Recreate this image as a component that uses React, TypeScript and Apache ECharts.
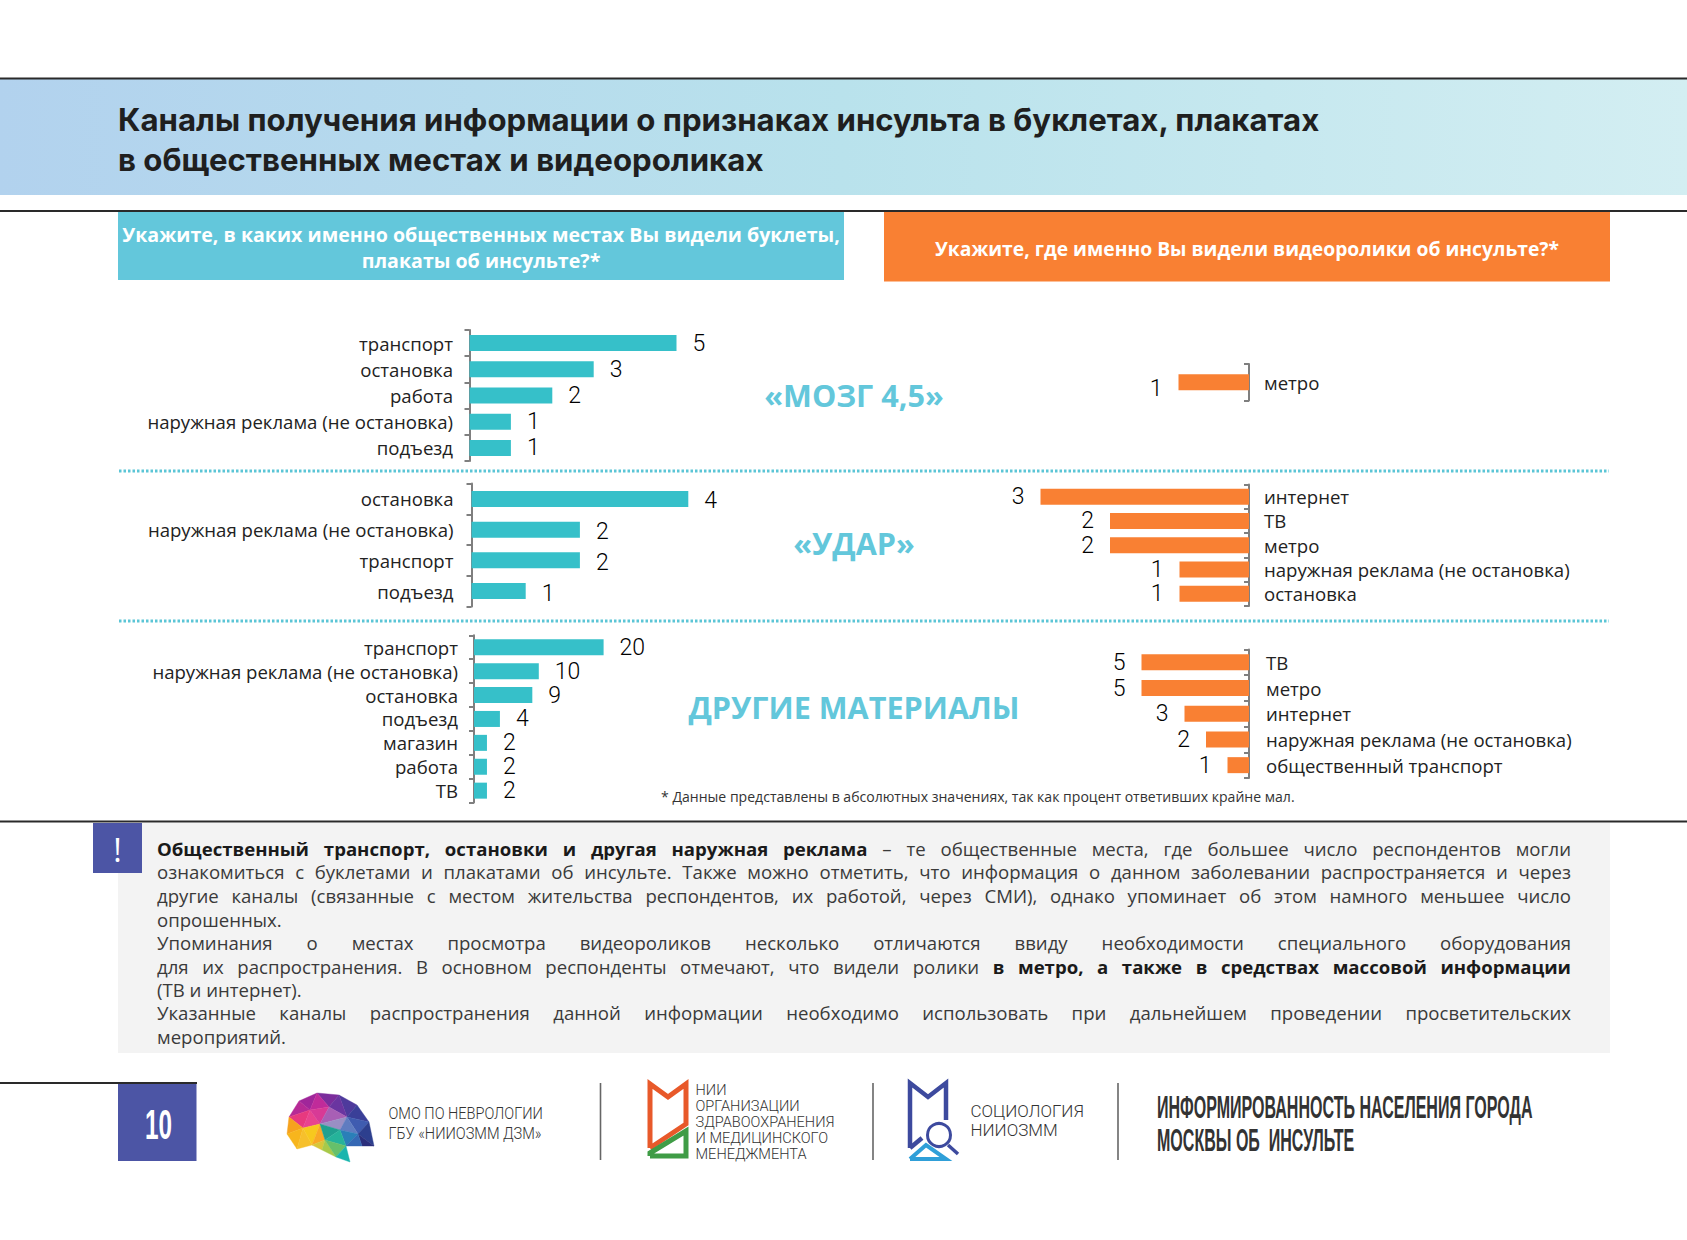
import React, { useEffect, useRef } from "react";
import * as echarts from "echarts";

const brainCats = ["транспорт", "остановка", "работа", "наружная реклама (не остановка)", "подъезд"];
const brainVals = [5, 3, 2, 1, 1];
const strokeCats = ["остановка", "наружная реклама (не остановка)", "транспорт", "подъезд"];
const strokeVals = [4, 2, 2, 1];
const otherCats = ["транспорт", "наружная реклама (не остановка)", "остановка", "подъезд", "магазин", "работа", "ТВ"];
const otherVals = [20, 10, 9, 4, 2, 2, 2];
const videoBrainCats = ["метро"];
const videoBrainVals = [1];
const videoStrokeCats = ["интернет", "ТВ", "метро", "наружная реклама (не остановка)", "остановка"];
const videoStrokeVals = [3, 2, 2, 1, 1];
const videoOtherCats = ["ТВ", "метро", "интернет", "наружная реклама (не остановка)", "общественный транспорт"];
const videoOtherVals = [5, 5, 3, 2, 1];

const titleLines = [
  "Каналы получения информации о признаках инсульта в буклетах, плакатах",
  "в общественных местах и видеороликах",
];
const bodyLines: { runs: [string, boolean][]; justify: boolean }[] = [
  { runs: [["Общественный транспорт, остановки и другая наружная реклама", true], ["– те общественные места, где большее число респондентов могли", false]], justify: true },
  { runs: [["ознакомиться с буклетами и плакатами об инсульте. Также можно отметить, что информация о данном заболевании распространяется и через", false]], justify: true },
  { runs: [["другие каналы (связанные с местом жительства респондентов, их работой, через СМИ), однако упоминает об этом намного меньшее число", false]], justify: true },
  { runs: [["опрошенных.", false]], justify: false },
  { runs: [["Упоминания о местах просмотра видеороликов несколько отличаются ввиду необходимости специального оборудования", false]], justify: true },
  { runs: [["для их распространения. В основном респонденты отмечают, что видели ролики", false], ["в метро, а также в средствах массовой информации", true]], justify: true },
  { runs: [["(ТВ и интернет).", false]], justify: false },
  { runs: [["Указанные каналы распространения данной информации необходимо использовать при дальнейшем проведении просветительских", false]], justify: true },
  { runs: [["мероприятий.", false]], justify: false },
];

const FONT = "'Open Sans', sans-serif";
const TEAL = "#36c0c9";
const ORANGE = "#f98033";
const HEAD_BLUE = "#63c7db";
const INDIGO = "#4c55a5";

type Panel = { cats: string[]; vals: number[]; side: "left" | "right"; axisX: number; top: number; bottom: number; scale: number; margin: number; dy?: number };
const panels: Panel[] = [
  { cats: brainCats, vals: brainVals, side: "left", axisX: 469.5, top: 330, bottom: 461, scale: 41.4, margin: 16.5 },
  { cats: strokeCats, vals: strokeVals, side: "left", axisX: 471.5, top: 483.6, bottom: 606.4, scale: 54.2, margin: 18, dy: 2 },
  { cats: otherCats, vals: otherVals, side: "left", axisX: 474, top: 635.3, bottom: 802.6, scale: 6.48, margin: 16 },
  { cats: videoBrainCats, vals: videoBrainVals, side: "right", axisX: 1249, top: 364, bottom: 400.5, scale: 70.5, margin: 15, dy: 6 },
  { cats: videoStrokeCats, vals: videoStrokeVals, side: "right", axisX: 1249, top: 484.5, bottom: 606, scale: 69.5, margin: 15 },
  { cats: videoOtherCats, vals: videoOtherVals, side: "right", axisX: 1249, top: 649.5, bottom: 778, scale: 21.5, margin: 17 },
];

function buildPanels() {
  const grid: any[] = [], xAxis: any[] = [], yAxis: any[] = [], series: any[] = [];
  panels.forEach((p, i) => {
    const max = Math.max(...p.vals);
    const width = max * p.scale;
    const left = p.side === "left";
    grid.push({ left: left ? p.axisX : p.axisX - width, top: p.top, width, height: p.bottom - p.top, containLabel: false });
    xAxis.push({ type: "value", gridIndex: i, min: 0, max, show: false, inverse: !left });
    yAxis.push({
      type: "category", gridIndex: i, data: p.cats, inverse: true, position: left ? "left" : "right",
      axisLine: { show: true, lineStyle: { color: "#7f7f7f", width: 2 } },
      axisTick: { show: true, length: 5, inside: !left, interval: 0, lineStyle: { color: "#7f7f7f", width: 2 } },
      axisLabel: { interval: 0, hideOverlap: false, margin: p.margin, fontFamily: FONT, fontSize: 18.6, color: "#222" },
    });
    series.push({
      type: "bar", xAxisIndex: i, yAxisIndex: i, data: p.vals, barWidth: 16,
      itemStyle: { color: left ? TEAL : ORANGE },
      label: { show: true, position: left ? "right" : "left", distance: 16, offset: [0, p.dy ?? 0], fontFamily: "Roboto", fontWeight: 300, fontSize: 23, color: "#000" },
    });
  });
  return { grid, xAxis, yAxis, series };
}

function bodyText(): any[] {
  const ctx = document.createElement("canvas").getContext("2d")!;
  const X0 = 157, X1 = 1571, size = 18.6;
  const ys = [848, 871.7, 895.3, 919, 942.6, 966, 989, 1012.5, 1036];
  const out: any[] = [];
  bodyLines.forEach((line, li) => {
    const words: { t: string; b: boolean; w: number }[] = [];
    line.runs.forEach(([s, b]) => s.split(" ").forEach((t) => {
      ctx.font = `${b ? 700 : 400} ${size}px 'Open Sans'`;
      words.push({ t, b, w: ctx.measureText(t).width });
    }));
    const sum = words.reduce((a, w) => a + w.w, 0);
    ctx.font = `400 ${size}px 'Open Sans'`;
    const gap = line.justify ? (X1 - X0 - sum) / (words.length - 1) : ctx.measureText(" ").width;
    let x = X0;
    words.forEach((w) => {
      out.push({ type: "text", x, y: ys[li], style: { text: w.t, fontFamily: FONT, fontSize: size, fontWeight: w.b ? 700 : 400, fill: w.b ? "#1a1a1a" : "#3a3a3a", verticalAlign: "middle" } });
      x += w.w + gap;
    });
  });
  return out;
}

function fitX(text: string, font: string, width: number) {
  const ctx = document.createElement("canvas").getContext("2d")!;
  ctx.font = font;
  return width / ctx.measureText(text).width;
}

const T = (text: string, x: number, y: number, style: any, extra: any = {}) => ({
  type: "text", x, y, ...extra, style: { text, fontFamily: FONT, verticalAlign: "middle", ...style },
});
const R = (x: number, y: number, width: number, height: number, fill: any) => ({ type: "rect", shape: { x, y, width, height }, style: { fill } });
const L = (x1: number, y1: number, x2: number, y2: number, stroke: string, lineWidth: number, lineDash?: number[]) => ({
  type: "line", shape: { x1, y1, x2, y2 }, style: { stroke, lineWidth, lineDash },
});
const PL = (points: number[][], stroke: string, lineWidth: number) => ({ type: "polyline", shape: { points }, style: { stroke, lineWidth, fill: "none", lineJoin: "miter" } });
const PG = (points: number[][], fill: string) => ({ type: "polygon", shape: { points }, style: { fill, stroke: fill, lineWidth: 0.4 } });

const bp: Record<string, number[]> = {
  A: [299, 1101], B: [317, 1093], C: [339, 1095], D: [357, 1105], E: [369, 1122], F: [374, 1146],
  G: [289, 1117], H: [287, 1134], I: [297, 1149], J: [312, 1145], K: [322, 1150], L: [336, 1157],
  M: [346, 1146], T: [350, 1162], N: [362, 1146],
  a: [310, 1110], b: [329, 1107], c: [347, 1117], d: [320, 1124], e: [340, 1130], f: [358, 1134], g: [303, 1128], h: [325, 1140],
};
const brainTris: [string, string][] = [
  ["ABa", "#a0269a"], ["BCb", "#7b2d9c"], ["Bab", "#c02b9a"], ["CDc", "#4e3a9c"], ["Cbc", "#6a35a0"], ["DEc", "#3a3f98"],
  ["AGa", "#b62a96"], ["Gga", "#e7397f"], ["adg", "#e8438f"], ["abd", "#d83a96"], ["bcd", "#a85fb5"], ["cde", "#9a8fc4"],
  ["Ecf", "#3f5cb0"], ["cef", "#5f7cc0"], ["EFf", "#2d3f8e"], ["FNf", "#2b2f7c"],
  ["GHg", "#f6a21e"], ["HIg", "#f7b51d"], ["IJg", "#f6c02c"], ["gdJ", "#f7c81e"], ["dhJ", "#f9a825"],
  ["deh", "#1fa08f"], ["efM", "#2a7fb8"], ["ehM", "#25b39a"], ["fNM", "#3568b4"], ["JKh", "#d8c63a"], ["KLh", "#a8c94a"],
  ["LMh", "#66c06a"], ["LMT", "#19b5ad"],
];

function decor(): any[] {
  const g: any[] = [];
  g.push(R(0, 79, 1687, 116, new echarts.graphic.LinearGradient(0, 0, 1, 0, [
    { offset: 0, color: "#b2d2ee" }, { offset: 0.5, color: "#b9e2ec" }, { offset: 1, color: "#d3eef2" },
  ])));
  g.push(L(0, 78.5, 1687, 78.5, "#2a2a2a", 2), L(0, 211, 1687, 211, "#2a2a2a", 2), L(0, 821.5, 1687, 821.5, "#2a2a2a", 2));
  titleLines.forEach((t, i) => g.push(T(t, 118, 119.5 + i * 40, { fontFamily: "Inter", fontWeight: 700, fontSize: 31.2, fill: "#1f1f1f" })));
  g.push(R(118, 212, 726, 68, HEAD_BLUE), R(884, 212, 726, 69.5, ORANGE));
  const hs = { fill: "#fff", fontWeight: 700, fontSize: 19.6, align: "center" };
  g.push(T("Укажите, в каких именно общественных местах Вы видели буклеты,", 481, 234.5, hs));
  g.push(T("плакаты об инсульте?*", 481, 260, hs));
  g.push(T("Укажите, где именно Вы видели видеоролики об инсульте?*", 1247, 248.5, { ...hs, fontSize: 19.3 }));
  [471, 621].forEach((y) => g.push(L(119, y, 1609, y, "#5bc5d6", 3, [2.5, 2])));
  const ts = { fill: HEAD_BLUE, fontWeight: 700, fontSize: 30.6, align: "center" };
  g.push(T("«МОЗГ 4,5»", 854, 395, ts), T("«УДАР»", 854, 543, ts), T("ДРУГИЕ МАТЕРИАЛЫ", 854, 707, ts));
  g.push(T("* Данные представлены в абсолютных значениях, так как процент ответивших крайне мал.", 661, 796.5, { fontSize: 14.05, fill: "#333" }));
  g.push(R(118, 823, 1492, 230, "#f3f3f3"), R(93, 823, 49, 50, INDIGO));
  g.push(T("!", 117.5, 849, { fill: "#fff", fontSize: 32, fontWeight: 400, align: "center" }));
  g.push(...bodyText());
  g.push(L(0, 1083, 197, 1083, "#2a2a2a", 2), R(118, 1084, 78.5, 77, INDIGO));
  const num = "700 42px 'Liberation Sans'";
  g.push(T("10", 158.5, 1124, { fontFamily: "'Liberation Sans'", fontWeight: 700, fontSize: 42, fill: "#fff", align: "center" }, { scaleX: fitX("10", num, 27) }));
  brainTris.forEach(([k, c]) => g.push(PG(k.split("").map((n) => bp[n]), c)));
  const ls = { fontFamily: "Roboto", fontWeight: 300, fontSize: 16, fill: "#333" };
  g.push(T("ОМО ПО НЕВРОЛОГИИ", 388.5, 1114, ls, { scaleX: 0.91 }), T("ГБУ «НИИОЗММ ДЗМ»", 388.5, 1134, ls, { scaleX: 0.91 }));
  [600.5, 873, 1118].forEach((x) => g.push(L(x, 1083, x, 1160, "#666", 1.6)));
  g.push(PL([[650, 1148], [650, 1084], [668, 1097], [686, 1084], [686, 1124], [650, 1148]], "#e8592a", 5));
  g.push(PL([[650, 1156], [650, 1153], [686, 1131], [686, 1156], [650, 1156]], "#3f9c46", 5));
  ["НИИ", "ОРГАНИЗАЦИИ", "ЗДРАВООХРАНЕНИЯ", "И МЕДИЦИНСКОГО", "МЕНЕДЖМЕНТА"].forEach((t, i) =>
    g.push(T(t, 695.5, 1090 + i * 16, { ...ls, fontSize: 15.5 }, { scaleX: 0.94 })));
  g.push(PL([[910, 1148], [910, 1083], [928, 1097], [946, 1083], [946, 1120]], "#3d4a9e", 4.5));
  g.push(PL([[910, 1148], [922, 1138]], "#3d4a9e", 4.5));
  g.push(PL([[910, 1159], [926, 1145], [946, 1159], [910, 1159]], "#2f9fd8", 4));
  g.push({ type: "circle", shape: { cx: 939, cy: 1135, r: 11.5 }, style: { fill: "#fff", stroke: "#3d4a9e", lineWidth: 3 } });
  g.push(L(948, 1145, 958, 1154, "#3d4a9e", 3.5));
  g.push(T("СОЦИОЛОГИЯ", 970.5, 1111, { ...ls, fontSize: 17 }), T("НИИОЗММ", 970.5, 1130, { ...ls, fontSize: 17 }));
  const fs = { fontFamily: "'Liberation Sans'", fontWeight: 700, fontSize: 32, fill: "#333" };
  const fsFont = "700 32px 'Liberation Sans'";
  const s1 = fitX("ИНФОРМИРОВАННОСТЬ НАСЕЛЕНИЯ ГОРОДА", fsFont, 376);
  g.push(T("ИНФОРМИРОВАННОСТЬ НАСЕЛЕНИЯ ГОРОДА", 1157, 1107, fs, { scaleX: s1 }), T("МОСКВЫ ОБ  ИНСУЛЬТЕ", 1157, 1140, fs, { scaleX: s1 }));
  return g.map((e) => ({ silent: true, ...e }));
}

export default function App() {
  const ref = useRef<HTMLDivElement>(null);
  useEffect(() => {
    const chart = echarts.init(ref.current!, undefined, { renderer: "svg" });
    chart.setOption({ animation: false, backgroundColor: "#fff", ...buildPanels(), graphic: { elements: decor() } });
    return () => chart.dispose();
  }, []);
  return <div ref={ref} style={{ position: "absolute", left: 0, top: 0, width: 1687, height: 1240 }} />;
}
